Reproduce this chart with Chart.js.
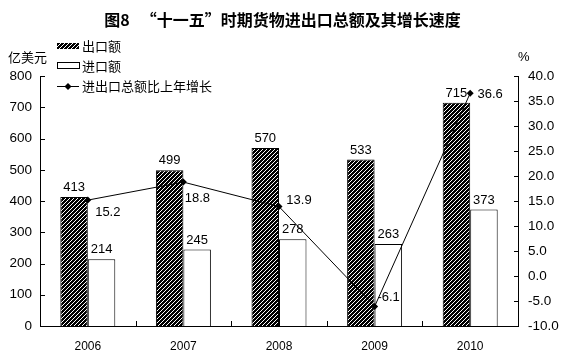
<!DOCTYPE html>
<html>
<head>
<meta charset="utf-8">
<script src="https://cdn.jsdelivr.net/npm/chart.js@4/dist/chart.umd.min.js"></script>
<style>
  html, body { margin: 0; padding: 0; background: #fff; }
  #wrap { width: 565px; height: 360px; }
</style>
</head>
<body>
<div id="wrap"><canvas id="c" width="565" height="360"></canvas></div>
<script>
// 데이터
const years = ["2006", "2007", "2008", "2009", "2010"];
const exportVals = [413, 499, 570, 533, 715];
const importVals = [214, 245, 278, 263, 373];
const growthVals = [15.2, 18.8, 13.9, -6.1, 36.6];
const leftTicks = [0, 100, 200, 300, 400, 500, 600, 700, 800];
const rightTicks = [-10, -5, 0, 5, 10, 15, 20, 25, 30, 35, 40];

const FONT = "'Liberation Sans', Arial, sans-serif";
const CJK = "'Noto Sans CJK SC', sans-serif";

// 사선 패턴 (출구액)
function hatch() {
  const p = document.createElement("canvas");
  p.width = 4; p.height = 4;
  const g = p.getContext("2d");
  g.fillStyle = "#000";
  g.fillRect(0, 0, 4, 4);
  g.strokeStyle = "#fff";
  g.lineWidth = 1;
  g.beginPath();
  g.moveTo(-1, 5); g.lineTo(5, -1);
  g.moveTo(3, 5); g.lineTo(5, 3);
  g.moveTo(-1, 1); g.lineTo(1, -1);
  g.stroke();
  return g.createPattern(p, "repeat");
}
const pat = hatch();

// 증장률 라벨 오프셋 (점 기준)
const growthLabelOffset = [[20, 12], [14, 16], [20, -6], [14, -9], [20, 1]];

const extras = {
  id: "extras",
  afterDraw(chart) {
    const ctx = chart.ctx;
    const a = chart.chartArea;
    const x = chart.scales.x, yl = chart.scales.y, yr = chart.scales.y1;
    ctx.save();
    ctx.strokeStyle = "#000";
    ctx.lineWidth = 1;
    // 축선
    ctx.beginPath();
    ctx.moveTo(Math.round(a.left) + 0.5, a.top);
    ctx.lineTo(Math.round(a.left) + 0.5, a.bottom);
    ctx.moveTo(Math.round(a.right) + 0.5, a.top);
    ctx.lineTo(Math.round(a.right) + 0.5, a.bottom);
    ctx.moveTo(a.left, Math.round(a.bottom) + 0.5);
    ctx.lineTo(a.right + 1, Math.round(a.bottom) + 0.5);
    // 안쪽 눈금
    leftTicks.forEach(v => {
      const py = Math.round(yl.getPixelForValue(v)) + 0.5;
      ctx.moveTo(a.left, py); ctx.lineTo(a.left + 5, py);
    });
    rightTicks.forEach(v => {
      const py = Math.round(yr.getPixelForValue(v)) + 0.5;
      ctx.moveTo(a.right + 1, py); ctx.lineTo(a.right - 4, py);
    });
    for (let i = 1; i < years.length; i++) {
      const px = Math.round((x.getPixelForValue(i - 1) + x.getPixelForValue(i)) / 2) + 0.5;
      ctx.moveTo(px, a.bottom); ctx.lineTo(px, a.bottom - 5);
    }
    ctx.stroke();

    // 값 라벨
    ctx.fillStyle = "#000";
    ctx.font = "13px " + FONT;
    ctx.textAlign = "center";
    ctx.textBaseline = "bottom";
    [0, 1].forEach(di => {
      const vals = di === 0 ? exportVals : importVals;
      chart.getDatasetMeta(di).data.forEach((el, i) => {
        ctx.fillText(String(vals[i]), el.x, el.y - 3);
      });
    });
    ctx.textBaseline = "middle";
    chart.getDatasetMeta(2).data.forEach((el, i) => {
      const o = growthLabelOffset[i];
      ctx.fillText(growthVals[i].toFixed(1), el.x + o[0], el.y + o[1]);
    });

    // 단위
    ctx.font = "13px " + CJK;
    ctx.textAlign = "left";
    ctx.fillText("亿美元", 8, 57);
    ctx.font = "13px " + FONT;
    ctx.fillText("%", 518, 57);

    // 범례
    const lx = 57, lw = 22;
    ctx.fillStyle = pat;
    ctx.fillRect(lx, 43, lw, 6);
    ctx.strokeRect(lx + 0.5, 62.5, lw, 6);
    ctx.beginPath();
    ctx.moveTo(lx, 86.5); ctx.lineTo(lx + lw, 86.5);
    ctx.stroke();
    ctx.fillStyle = "#000";
    ctx.beginPath();
    const dx = lx + lw / 2, dy = 86.5;
    ctx.moveTo(dx, dy - 3.5); ctx.lineTo(dx + 3.5, dy); ctx.lineTo(dx, dy + 3.5); ctx.lineTo(dx - 3.5, dy);
    ctx.closePath(); ctx.fill();
    ctx.font = "13px " + CJK;
    ctx.fillText("出口额", lx + lw + 3, 46);
    ctx.fillText("进口额", lx + lw + 3, 66);
    ctx.fillText("进出口总额比上年增长", lx + lw + 3, 86);
    ctx.restore();
  }
};

new Chart(document.getElementById("c"), {
  data: {
    labels: years,
    datasets: [
      {
        type: "bar", label: "出口额", data: exportVals, yAxisID: "y",
        backgroundColor: pat, borderColor: "#000", borderWidth: 1,
        categoryPercentage: 0.575, barPercentage: 1, order: 2
      },
      {
        type: "bar", label: "进口额", data: importVals, yAxisID: "y",
        backgroundColor: "#fff", borderColor: "#000", borderWidth: 1,
        categoryPercentage: 0.575, barPercentage: 1, order: 2
      },
      {
        type: "line", label: "进出口总额比上年增长", data: growthVals, yAxisID: "y1",
        borderColor: "#000", borderWidth: 1, backgroundColor: "#000",
        pointStyle: "rectRot", pointRadius: 3.5, pointBorderWidth: 0,
        tension: 0, order: 1
      }
    ]
  },
  options: {
    responsive: false,
    animation: false,
    devicePixelRatio: 1,
    layout: { padding: { left: 0, right: 0, top: 0, bottom: 0 } },
    plugins: {
      legend: { display: false },
      tooltip: { enabled: false },
      title: {
        display: true,
        text: "图8   “十一五”时期货物进出口总额及其增长速度",
        color: "#000",
        font: { family: CJK, size: 16, weight: "bold", lineHeight: 1.2 },
        padding: { top: 10, bottom: 47 }
      }
    },
    scales: {
      x: {
        grid: { display: false, drawTicks: false },
        border: { display: false },
        ticks: { color: "#000", font: { family: FONT, size: 12 }, padding: 13 },
        afterFit: s => { s.height = 34; }
      },
      y: {
        position: "left", min: 0, max: 800,
        afterBuildTicks: s => { s.ticks = leftTicks.map(v => ({ value: v })); },
        grid: { display: false, drawTicks: false },
        border: { display: false },
        ticks: { color: "#000", font: { family: FONT, size: 13.5 }, padding: 8 },
        afterFit: s => { s.width = 40; }
      },
      y1: {
        position: "right", min: -10, max: 40,
        afterBuildTicks: s => { s.ticks = rightTicks.map(v => ({ value: v })); },
        grid: { display: false, drawTicks: false },
        border: { display: false },
        ticks: { color: "#000", font: { family: FONT, size: 13.5 }, padding: 10, callback: v => Number(v).toFixed(1) },
        afterFit: s => { s.width = 47; }
      }
    }
  },
  plugins: [extras]
});
</script>
</body>
</html>
